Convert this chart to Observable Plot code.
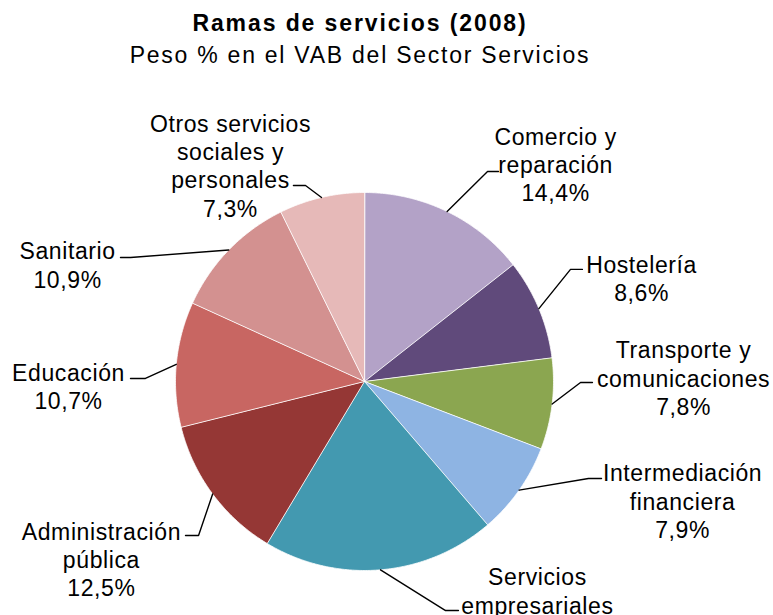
<!DOCTYPE html>
<html><head><meta charset="utf-8">
<script src="https://cdn.jsdelivr.net/npm/d3@7"></script>
<script src="https://cdn.jsdelivr.net/npm/@observablehq/plot@0.6"></script>
<style>
html,body{margin:0;padding:0;background:#fff;overflow:hidden;}
body{font-family:"Liberation Sans",Arial,sans-serif;width:773px;height:615px;}
#head{width:720px;padding-top:8px;text-align:center;color:#000;height:63px;}
#t1{font-weight:bold;font-size:23px;line-height:31.5px;letter-spacing:1.9px;white-space:nowrap;}
#t2{font-size:23px;line-height:31.5px;letter-spacing:1.75px;white-space:nowrap;}
#chart svg{display:block;}
</style></head><body>
<div id="head"><div id="t1">Ramas de servicios (2008)</div><div id="t2">Peso % en el VAB del Sector Servicios</div></div>
<div id="chart"></div>
<script>
// ---- data ----
const categories = ["Comercio y reparación","Hostelería","Transporte y comunicaciones","Intermediación financiera","Servicios empresariales","Administración pública","Educación","Sanitario","Otros servicios sociales y personales"];
const labelLines = ["Comercio y\nreparación","Hostelería","Transporte y\ncomunicaciones","Intermediación\nfinanciera","Servicios\nempresariales","Administración\npública","Educación","Sanitario","Otros servicios\nsociales y\npersonales"];
const values = [14.4, 8.6, 7.8, 7.9, 19.9, 12.5, 10.7, 10.9, 7.3];
const colors = ["#B3A2C7","#604A7B","#8BA650","#8EB4E3","#4399B0","#953735","#C86662","#D39190","#E6B9B8"];

// ---- label layout (in pie-radius units, centre = 0,0) ----
const labelLayout = [
  {ex:0.651, ey:1.111, hx:0.709, tx:1.011, ty:1.153},
  {ex:1.090, ey:0.593, hx:1.153, tx:1.466, ty:0.548},
  {ex:1.143, ey:-0.005, hx:1.206, tx:1.688, ty:0.021},
  {ex:1.185, ey:-0.513, hx:1.254, tx:1.683, ty:-0.630},
  {ex:0.429, ey:-1.212, hx:0.497, tx:0.915, ty:-1.180},
  {ex:-0.878, ey:-0.815, hx:-0.947, tx:-1.392, ty:-0.937},
  {ex:-1.159, ey:0.016, hx:-1.238, tx:-1.566, ty:-0.026},
  {ex:-1.238, ey:0.656, hx:-1.291, tx:-1.571, ty:0.619},
  {ex:-0.312, ey:1.037, hx:-0.376, tx:-0.709, ty:1.143}
];

const fmt = v => d3.format(".1f")(v).replace(".", ",") + "%";
const total = d3.sum(values);
let acc = 0;
const slices = categories.map((c, i) => {
  const a0 = acc / total * 2 * Math.PI; acc += values[i];
  const a1 = acc / total * 2 * Math.PI;
  return {c, a0, a1, mid: (a0 + a1) / 2};
});
const slicePts = slices.flatMap(s => {
  const n = Math.max(2, Math.ceil((s.a1 - s.a0) / (Math.PI / 360)));
  const pts = [{c: s.c, x: 0, y: 0}];
  for (let k = 0; k <= n; k++) {
    const a = s.a0 + (s.a1 - s.a0) * k / n;
    pts.push({c: s.c, x: Math.sin(a), y: Math.cos(a)});
  }
  return pts;
});
const leaderPts = slices.flatMap((s, i) => {
  const L = labelLayout[i];
  return [
    {c: s.c, x: Math.sin(s.mid), y: Math.cos(s.mid)},
    {c: s.c, x: L.ex, y: L.ey},
    {c: s.c, x: L.hx, y: L.ey}
  ];
});
const textRows = slices.map((s, i) => ({
  c: s.c, x: labelLayout[i].tx, y: labelLayout[i].ty,
  t: labelLines[i] + "\n" + fmt(values[i])
}));

const chart = Plot.plot({
  width: 773, height: 544, margin: 0,
  x: {domain: [-1, 1], range: [175, 553], axis: null},
  y: {domain: [-1, 1], range: [499, 121], axis: null},
  color: {domain: categories, range: colors},
  style: {fontFamily: '"Liberation Sans", Arial, sans-serif', letterSpacing: "0.6px", background: "white", overflow: "visible"},
  marks: [
    Plot.line(slicePts, {x: "x", y: "y", z: "c", fill: "c", stroke: "white", strokeWidth: 0.8, curve: "linear-closed"}),
    Plot.line(leaderPts, {x: "x", y: "y", z: "c", stroke: "black", strokeWidth: 1.4}),
    Plot.text(textRows, {x: "x", y: "y", text: "t", fontSize: 23, lineHeight: 1.22, textAnchor: "middle", lineAnchor: "middle", fill: "black"})
  ]
});
document.getElementById("chart").appendChild(chart);
</script>
</body></html>
